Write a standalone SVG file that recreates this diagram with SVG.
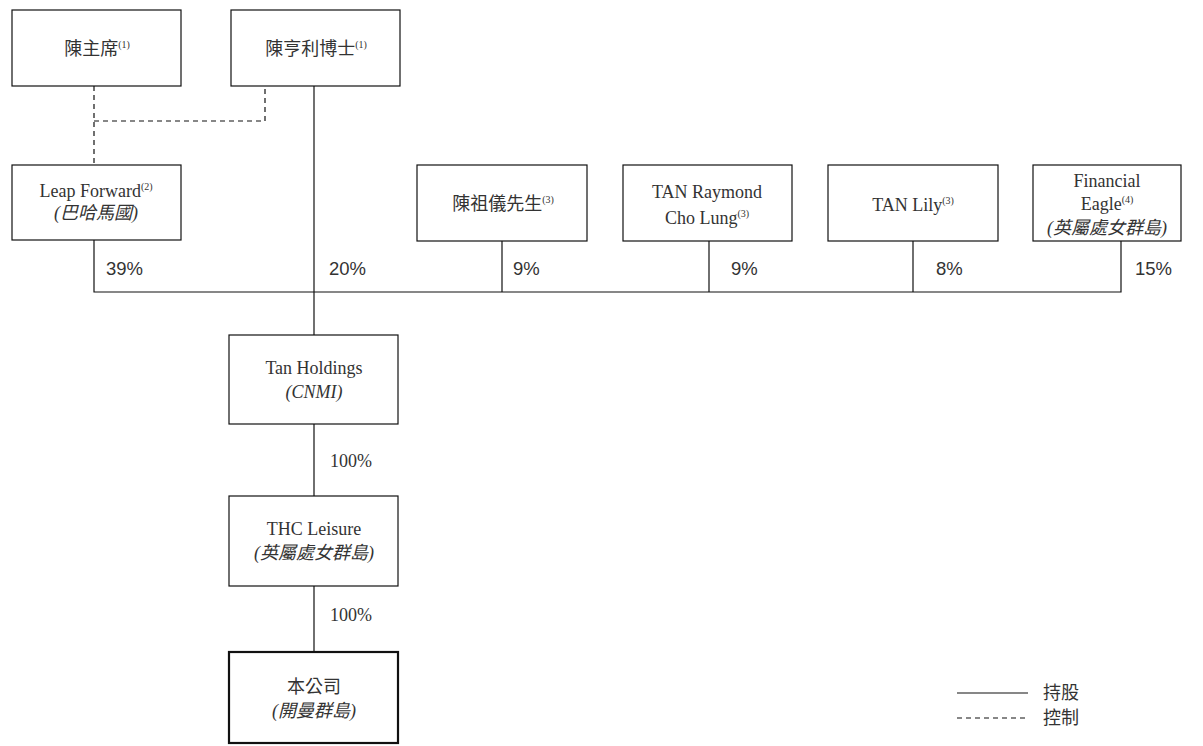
<svg xmlns="http://www.w3.org/2000/svg" width="1203" height="746" viewBox="0 0 1203 746">
<style>
.box{fill:#fff;stroke:#111;stroke-width:1.2}
.main{fill:#fff;stroke:#111;stroke-width:2.2}
.t{font-family:"Liberation Serif","Noto Sans CJK TC",serif;font-size:18px;fill:#333;text-anchor:middle}
.i{font-style:italic}
.p{font-family:"Liberation Sans","Noto Sans CJK TC",sans-serif;font-size:18.5px;fill:#333}
.ps{font-family:"Liberation Serif",serif;font-size:18px;fill:#333}
.s{font-size:10px}
.ln{stroke:#111;stroke-width:1.2;fill:none}
.dash{stroke:#111;stroke-width:1.2;fill:none;stroke-dasharray:5,4}
</style>
<g id="connectors">
<path class="dash" d="M94,86 V165 M94,121 H265 V86"/>
<path class="ln" d="M314,86 V335"/>
<path class="ln" d="M94,240 V292 H1121 V241"/>
<path class="ln" d="M502,241 V292 M709,241 V292 M913,241 V292"/>
<path class="ln" d="M314,424 V496 M314,586 V652"/>
</g>
<g id="labels">
<text class="p" x="106" y="275">39%</text>
<text class="p" x="329" y="275">20%</text>
<text class="p" x="513" y="275">9%</text>
<text class="p" x="731" y="275">9%</text>
<text class="p" x="936" y="275">8%</text>
<text class="p" x="1135" y="275">15%</text>
<text class="ps" x="330" y="467">100%</text>
<text class="ps" x="330" y="621">100%</text>
</g>
<g id="n-chen-chair">
<rect class="box" x="12" y="10" width="169" height="76"/>
<text class="t" x="97" y="55">陳主席<tspan class="s" dy="-7">(1)</tspan></text>
</g>
<g id="n-chen-henry">
<rect class="box" x="231" y="10" width="169" height="76"/>
<text class="t" x="316" y="55">陳亨利博士<tspan class="s" dy="-7">(1)</tspan></text>
</g>
<g id="n-leap">
<rect class="box" x="12" y="165" width="169" height="75"/>
<text class="t" x="96" y="197">Leap Forward<tspan class="s" dy="-7">(2)</tspan></text>
<text class="t i" x="96" y="219">(巴哈馬國)</text>
</g>
<g id="n-chen-zuyi">
<rect class="box" x="417" y="165" width="170" height="76"/>
<text class="t" x="503" y="210">陳祖儀先生<tspan class="s" dy="-7">(3)</tspan></text>
</g>
<g id="n-raymond">
<rect class="box" x="623" y="165" width="169" height="76"/>
<text class="t" x="707" y="198">TAN Raymond</text>
<text class="t" x="707" y="224">Cho Lung<tspan class="s" dy="-7">(3)</tspan></text>
</g>
<g id="n-lily">
<rect class="box" x="828" y="165" width="170" height="76"/>
<text class="t" x="913" y="211">TAN Lily<tspan class="s" dy="-7">(3)</tspan></text>
</g>
<g id="n-eagle">
<rect class="box" x="1033" y="165" width="148" height="76"/>
<text class="t" x="1107" y="187">Financial</text>
<text class="t" x="1107" y="210">Eagle<tspan class="s" dy="-7">(4)</tspan></text>
<text class="t i" x="1107" y="234">(英屬處女群島)</text>
</g>
<g id="n-tan-holdings">
<rect class="box" x="229" y="335" width="169" height="89"/>
<text class="t" x="314" y="374">Tan Holdings</text>
<text class="t i" x="314" y="398">(CNMI)</text>
</g>
<g id="n-thc">
<rect class="box" x="229" y="496" width="169" height="90"/>
<text class="t" x="314" y="535">THC Leisure</text>
<text class="t i" x="314" y="559">(英屬處女群島)</text>
</g>
<g id="n-company">
<rect class="main" x="229" y="652" width="169" height="91"/>
<text class="t" x="314" y="693">本公司</text>
<text class="t i" x="314" y="717">(開曼群島)</text>
</g>
<g id="legend">
<path class="ln" d="M957,693 H1028"/>
<text class="t" x="1043" y="699" style="text-anchor:start">持股</text>
<path class="dash" d="M957,718 H1028"/>
<text class="t" x="1043" y="724" style="text-anchor:start">控制</text>
</g>
</svg>
